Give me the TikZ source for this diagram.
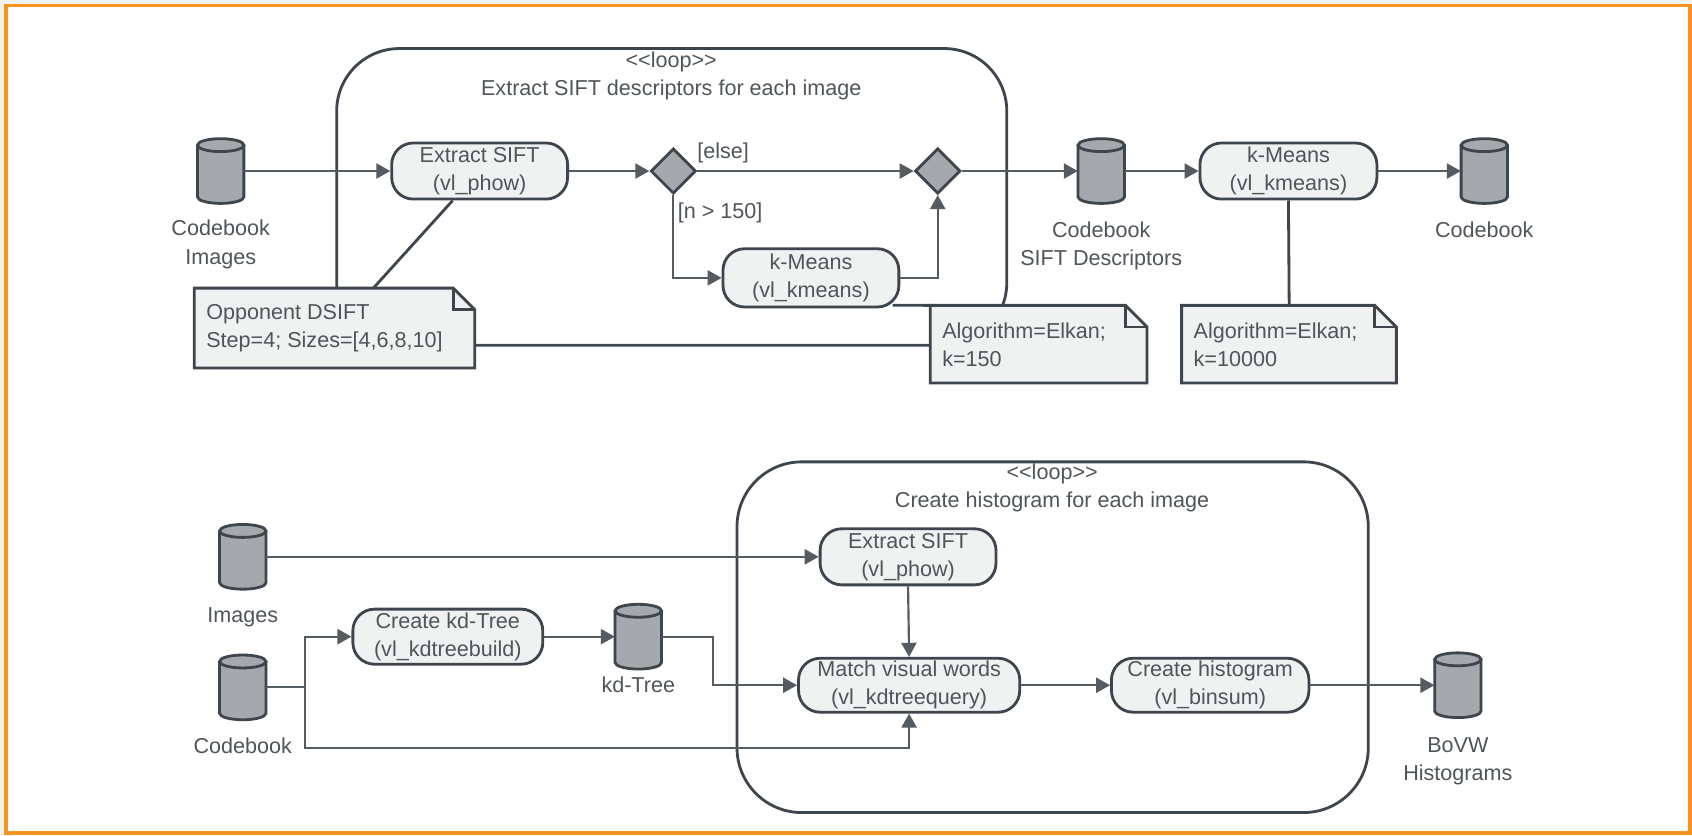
\documentclass[tikz,border=0pt]{standalone}
\usepackage{fontspec}
\setmainfont{Liberation Sans}
\usetikzlibrary{arrows.meta,calc,shapes.geometric}
\definecolor{ln}{HTML}{3E454C}
\definecolor{ar}{HTML}{545B61}
\definecolor{tx}{HTML}{4F555B}
\definecolor{nf}{HTML}{F0F1F1}
\definecolor{cf}{HTML}{A5A8AC}
\definecolor{orng}{HTML}{F7941D}
\definecolor{bgout}{HTML}{F2F2F2}

\tikzset{
  base/.style={font=\fontsize{20}{26}\selectfont, text=tx},
  act/.style={base, draw=ln, line width=2.6pt, fill=nf, rounded corners=20pt, align=center, inner sep=0pt},
  lbl/.style={base, align=center, inner sep=0pt},
  arr/.style={draw=ar, line width=2pt, -{Triangle[length=13pt,width=14pt]}},
  lnk/.style={draw=ln, line width=2.6pt},
  loopbox/.style={draw=ln, line width=2.6pt, rounded corners=58pt, inner sep=0pt},
  dec/.style={diamond, draw=ln, line width=2.6pt, fill=cf, inner sep=0pt, minimum width=42pt, minimum height=42pt},
}

\newcommand\dbcyl[3]{%
  \node[minimum width=43pt, minimum height=60pt, inner sep=0pt] (#1) at (#2,#3) {};
  \fill[cf] ({#2-21.5},{#3-24}) -- ({#2-21.5},{#3+24}) arc[start angle=180,end angle=0,x radius=21.5,y radius=6] -- ({#2+21.5},{#3-24}) -- cycle;
  \draw[ln, line width=2.6pt] ({#2-21.5},{#3-24}) -- ({#2-21.5},{#3+24}) arc[start angle=180,end angle=0,x radius=21.5,y radius=6] -- ({#2+21.5},{#3-24});
  \draw[ln, line width=2.6pt, fill=cf] (#2,{#3-24}) ellipse[x radius=21.5, y radius=6];
}

\newcommand\umlnote[6]{%
  \node[inner sep=0pt, minimum width={#4-#2}, minimum height={#5-#3}, anchor=north west] (#1) at (#2,#3) {};
  \draw[ln, line width=2.6pt, fill=nf, line join=miter] (#2,#3) -- ({#4-20},#3) -- (#4,{#3+20}) -- (#4,#5) -- (#2,#5) -- cycle;
  \draw[ln, line width=2.6pt] ({#4-20},#3) -- ({#4-20},{#3+20}) -- (#4,{#3+20});
  \node[base, anchor=west, align=left, inner sep=0pt] at ([xshift=11pt]#1.west) {#6};
}

\begin{document}
\begin{tikzpicture}[x=1pt, y=-1pt]
\useasboundingbox (0,0) rectangle (1568,774);
\fill[bgout] (0,0) rectangle (1568,774);
\fill[white] (5.5,5) rectangle (1566,772);
\draw[orng, line width=3.5pt] (5.5,5) rectangle (1566,772);

% ---------- top loop ----------
\node[loopbox, minimum width=621pt, minimum height=275pt] (L1) at (622.5,182.5) {};
\node[lbl] (L1t) at (622,70) {<\kern0pt<loop>\kern0pt>\\Extract SIFT descriptors for each image};

\dbcyl{CI}{204.5}{158.5}
\node[lbl] (CIl) at (204.5,226.5) {Codebook\\Images};

\node[act, minimum width=163pt, minimum height=52pt] (ES) at (444.5,158.5) {Extract SIFT\\(vl\_phow)};
\node[dec] (D1) at (624,158.5) {};
\node[dec] (D2) at (869,158.5) {};
\node[act, minimum width=163pt, minimum height=54pt] (KM1) at (751.5,257.5) {k-Means\\(vl\_kmeans)};

\dbcyl{SD}{1020.5}{158.5}
\node[lbl] (SDl) at (1020.5,227.5) {Codebook\\SIFT Descriptors};
\node[act, minimum width=164pt, minimum height=52pt] (KM2) at (1194,158.5) {k-Means\\(vl\_kmeans)};
\dbcyl{CB}{1375.5}{158.5}
\node[lbl] (CBl) at (1375.5,213) {Codebook};

\umlnote{OD}{180}{267}{440}{341}{Opponent DSIFT\\Step=4; Sizes=[4,6,8,10]}
\umlnote{A1}{862}{283}{1063}{355}{Algorithm=Elkan;\\k=150}
\umlnote{A2}{1095}{283}{1294}{355}{Algorithm=Elkan;\\k=10000}

\draw[arr] (CI.east) -- (ES.west);
\draw[arr] (ES.east) -- (D1.west);
\draw[arr] (D1.east) -- (D2.west);
\node[base, anchor=west, inner sep=0pt] (else) at (646,142) {[else]};
\draw[arr] (D1.south) |- (KM1.west);
\node[base, anchor=west, inner sep=0pt] (cond) at (628,197) {[n > 150]};
\draw[arr] (KM1.east) -| (D2.south);
\draw[arr] (D2.east) -- (SD.west);
\draw[arr] (SD.east) -- (KM2.west);
\draw[arr] (KM2.east) -- (CB.west);
\draw[lnk] (KM2.south) -- (A2.north);
\draw[lnk] ($(ES.south)+(-25,0)$) -- ($(OD.north west)+(166,0)$);
\draw[lnk] ($(KM1.south east)+(-7,-3)$) -- (A1.north west);

% ---------- bottom loop ----------
\node[loopbox, minimum width=585pt, minimum height=325pt, rounded corners=60pt] (L2) at (975.5,590.5) {};
\node[lbl] (L2t) at (975,452) {<\kern0pt<loop>\kern0pt>\\Create histogram for each image};

\dbcyl{IMG}{225}{516}
\node[lbl] (IMGl) at (225,572) {Images};
\dbcyl{CB2}{225}{637}
\node[lbl] (CB2l) at (225,691) {Codebook};

\node[act, minimum width=176pt, minimum height=51pt] (KDT) at (415,590) {Create kd-Tree\\(vl\_kdtreebuild)};
\dbcyl{KDC}{591.5}{590}
\node[lbl] (KDCl) at (591.5,635) {kd-Tree};

\node[act, minimum width=163pt, minimum height=52pt] (ES2) at (841.5,516) {Extract SIFT\\(vl\_phow)};
\node[act, minimum width=205pt, minimum height=50pt] (MVW) at (842.5,635) {Match visual words\\(vl\_kdtreequery)};
\node[act, minimum width=183pt, minimum height=50pt] (CH) at (1121.5,635) {Create histogram\\(vl\_binsum)};
\dbcyl{BOVW}{1351}{635}
\node[lbl] (BOVWl) at (1351,705.5) {BoVW\\Histograms};

\coordinate (br) at (283,637);
\coordinate (bl) at (283,693);
\coordinate (k1) at (661,590);

\draw[arr] (IMG.east) -- (ES2.west);
\draw[ar, line width=2pt] (CB2.east) -- (br);
\draw[arr] (br) |- (KDT.west);
\draw[arr] (br) -- (bl) -| (MVW.south);
\draw[arr] (KDT.east) -- (KDC.west);
\draw[arr] (KDC.east) -- (k1) |- (MVW.west);
\draw[arr] (ES2.south) -- (MVW.north);
\draw[arr] (MVW.east) -- (CH.west);
\draw[arr] (CH.east) -- (BOVW.west);
\end{tikzpicture}
\end{document}
